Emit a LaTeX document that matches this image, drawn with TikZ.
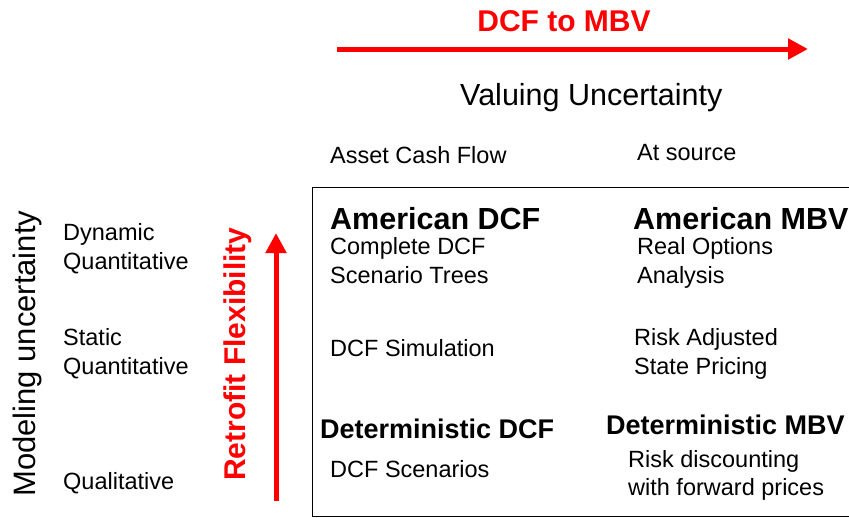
\documentclass[tikz,border=0pt]{standalone}
\usepackage{fontspec}
\setmainfont{Liberation Sans}
\usetikzlibrary{arrows.meta}

\begin{document}
\begin{tikzpicture}[x=1pt, y=-1pt,
    txt/.style={anchor=base west, inner sep=0pt, font=\fontsize{23.5}{28}\selectfont},
    big/.style={anchor=base west, inner sep=0pt, font=\fontsize{30.5}{36}\selectfont\bfseries},
    mid/.style={anchor=base west, inner sep=0pt, font=\fontsize{27}{32}\selectfont\bfseries},
    redarrow/.style={draw=red, line width=5pt, -{Triangle[length=20pt,width=20pt]}}]
    \clip (0,0) rectangle (849,517);
    \useasboundingbox (0,0) rectangle (849,517);

    % Frame
    \draw[line width=0.8pt] (312,187) rectangle (870,516);

    % Top axis
    \node[anchor=base, inner sep=0pt, text=red, font=\fontsize{30}{36}\selectfont\bfseries] (dcfmbv) at (564,31) {DCF to MBV};
    \coordinate (hstart) at (337,49);
    \coordinate (hend) at (808,49);
    \node[anchor=base west, inner sep=0pt, font=\fontsize{30.5}{36}\selectfont] (valuing) at (460,105) {Valuing Uncertainty};
    \node[txt] (assetcf) at (330,163) {Asset Cash Flow};
    \node[txt] (atsource) at (637,160) {At source};

    % Left axis
    \node[anchor=base west, inner sep=0pt, rotate=90, font=\fontsize{31}{36}\selectfont] (modeling) at (35,497) {Modeling uncertainty};
    \node[anchor=base west, inner sep=0pt, rotate=90, text=red, font=\fontsize{30}{36}\selectfont\bfseries] (retrofit) at (245,481) {Retrofit Flexibility};
    \coordinate (vstart) at (276,501);
    \coordinate (vend) at (276,233);
    \node[txt] (dyn1) at (63,240) {Dynamic};
    \node[txt] (dyn2) at (63,269) {Quantitative};
    \node[txt] (sta1) at (63,345) {Static};
    \node[txt] (sta2) at (63,374) {Quantitative};
    \node[txt] (qual) at (63,489) {Qualitative};

    % Cells
    \node[big] (amdcf) at (330,229) {American DCF};
    \node[txt] (compl) at (330,254) {Complete DCF};
    \node[txt] (trees) at (330,283) {Scenario Trees};
    \node[big] (ammbv) at (633,229) {American MBV};
    \node[txt] (realopt) at (637,254) {Real Options};
    \node[txt] (analysis) at (637,283) {Analysis};
    \node[txt] (dcfsim) at (330,356) {DCF Simulation};
    \node[txt] (riskadj) at (634,345) {Risk Adjusted};
    \node[txt] (statepr) at (634,374) {State Pricing};
    \node[mid] (detdcf) at (320,438) {Deterministic DCF};
    \node[txt] (dcfscen) at (330,477) {DCF Scenarios};
    \node[mid] (detmbv) at (606,434) {Deterministic MBV};
    \node[txt] (riskdisc) at (628,467) {Risk discounting};
    \node[txt] (fwd) at (628,495) {with forward prices};

    % Arrows
    \draw[redarrow] (hstart) -- (hend);
    \draw[redarrow] (vstart) -- (vend);
\end{tikzpicture}
\end{document}
